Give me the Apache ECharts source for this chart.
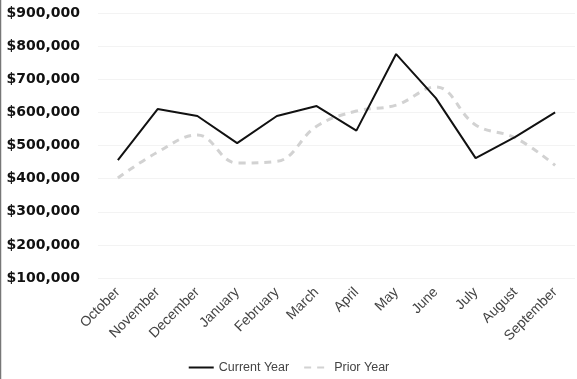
<!DOCTYPE html>
<html><head><meta charset="utf-8">
<script src="https://cdn.jsdelivr.net/npm/echarts@6/dist/echarts.min.js"></script>
<style>html,body{margin:0;padding:0;background:#fff}#c{width:577px;height:379px}</style>
</head><body><div id="c"></div>
<script>
var months = ['October','November','December','January','February','March','April','May','June','July','August','September'];
var currentYear = [456000, 610000, 589000, 507000, 589000, 619000, 545000, 776000, 643000, 462000, 526000, 600000];
var priorYear = [402000, 480000, 532000, 447000, 452000, 558000, 604000, 622000, 677000, 562000, 523000, 440000];
var yMin = 100000, yMax = 900000, yStep = 100000;

var chart = echarts.init(document.getElementById('c'), null, {renderer:'canvas'});
chart.setOption({
  animation: false,
  grid: {left: 98, right: 2, top: 13, bottom: 101},
  graphic: [{type:'line', shape:{x1:0.5,y1:0,x2:0.5,y2:379}, style:{stroke:'#777', lineWidth:1.5}}],
  legend: {
    bottom: 0, left: 'center',
    itemWidth: 25, itemHeight: 10, itemGap: 14,
    itemStyle: {opacity: 0, borderWidth: 0},
    textStyle: {fontFamily: 'Liberation Sans', fontSize: 12.5, color: '#444'},
    data: [
      {name:'Current Year'},
      {name:'Prior Year'}
    ]
  },
  xAxis: {
    type: 'category', data: months, boundaryGap: true,
    axisLine: {show:false}, axisTick: {show:false},
    axisLabel: {rotate: 45, margin: 12, fontFamily: 'Liberation Sans', fontSize: 14, color: '#444', interval: 0}
  },
  yAxis: {
    type: 'value', min: yMin, max: yMax, interval: yStep,
    axisLine: {show:false}, axisTick: {show:false},
    splitLine: {lineStyle: {color: '#f3f3f3'}},
    axisLabel: {
      margin: 18, fontFamily: 'DejaVu Sans', fontWeight: 'bold', fontSize: 14, color: '#111',
      formatter: function(v){ return '$' + v.toLocaleString('en-US'); }
    }
  },
  series: [
    {name:'Prior Year', type:'line', data: priorYear, smooth: 0.4, symbol:'none',
     lineStyle:{color:'#d2d2d2', width:3, type:[7,6]}, itemStyle:{color:'#d2d2d2'}, z: 1},
    {name:'Current Year', type:'line', data: currentYear, smooth: false, symbol:'none',
     lineStyle:{color:'#111', width:2}, itemStyle:{color:'#111'}, z: 2}
  ]
});
</script></body></html>
